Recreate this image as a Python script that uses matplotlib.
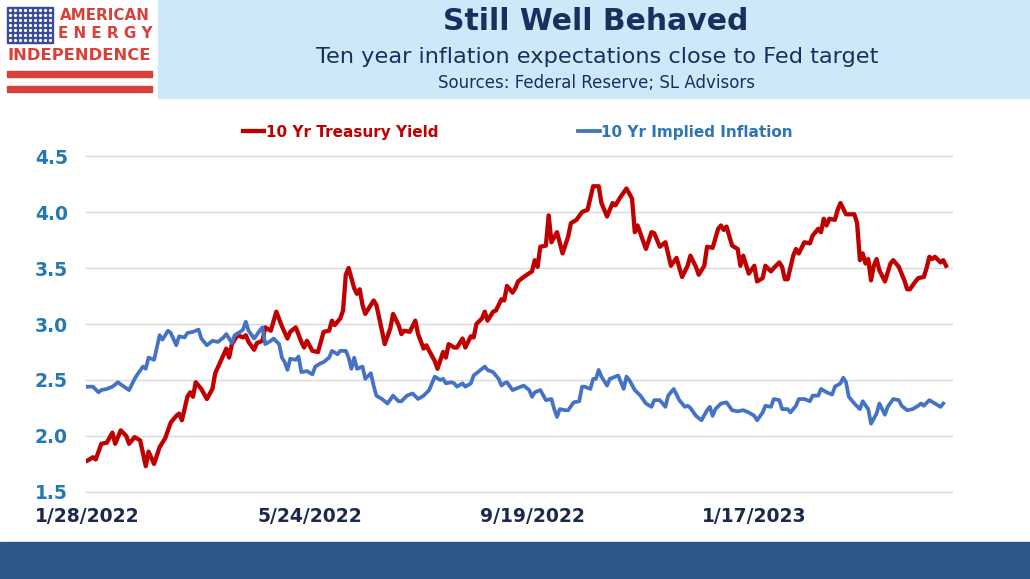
import matplotlib.pyplot as plt
from matplotlib.patches import Rectangle
import numpy as np

# trading-day index since 1/28/2022 and values
tsy_day = [0, 2, 3, 5, 7, 9, 10, 12, 14, 15, 17, 19, 21, 22, 24, 26, 28, 30, 32, 33,
           34, 36, 37, 38, 39, 41, 43, 45, 46, 48, 50, 51, 52, 54, 56, 57, 58, 60, 61, 63,
           64, 66, 68, 70, 72, 73, 75, 77, 78, 79, 81, 83, 85, 87, 88, 89, 91, 92, 93, 94,
           96, 97, 98, 99, 100, 103, 104, 106, 107, 109, 110, 112, 113, 114, 116, 118, 119, 121, 122, 123,
           125, 126, 128, 129, 130, 132, 133, 135, 136, 138, 139, 140, 142, 143, 144, 146, 147, 149, 150, 151,
           153, 154, 155, 157, 160, 161, 162, 163, 165, 166, 167, 169, 171, 173, 174, 176, 178, 180, 182, 184,
           185, 187, 189, 190, 192, 194, 196, 197, 198, 201, 203, 204, 206, 208, 210, 212, 214, 216, 217, 219,
           220, 222, 223, 225, 227, 228, 229, 230, 232, 234, 235, 236, 238, 240, 241, 243, 244, 246, 247, 249,
           250, 251, 252, 254, 255, 256, 258, 260, 261, 263, 264, 265, 266, 267, 269, 270, 271, 273, 276, 277,
           278, 279, 280, 281, 282, 283, 284, 285, 287, 289, 290, 292, 294, 295, 296, 298, 299, 301, 302, 303,
           304, 305, 307, 308, 309]
tsy_yield = [1.78, 1.81, 1.79, 1.93, 1.94, 2.03, 1.93, 2.05, 2.00, 1.93, 1.99, 1.96, 1.73, 1.86, 1.75, 1.90, 1.98, 2.12, 2.18, 2.20,
             2.14, 2.35, 2.39, 2.35, 2.48, 2.42, 2.33, 2.42, 2.56, 2.67, 2.78, 2.70, 2.82, 2.90, 2.88, 2.90, 2.84, 2.77, 2.83, 2.85,
             2.97, 2.94, 3.11, 2.98, 2.87, 2.93, 2.97, 2.84, 2.79, 2.85, 2.76, 2.75, 2.93, 2.94, 3.03, 2.99, 3.05, 3.12, 3.44, 3.50,
             3.32, 3.27, 3.31, 3.17, 3.09, 3.21, 3.17, 2.94, 2.82, 2.96, 3.09, 2.99, 2.91, 2.94, 2.93, 3.03, 2.91, 2.78, 2.81, 2.76,
             2.67, 2.60, 2.75, 2.70, 2.82, 2.79, 2.79, 2.87, 2.79, 2.89, 2.88, 3.00, 3.05, 3.11, 3.03, 3.11, 3.12, 3.22, 3.21, 3.34,
             3.28, 3.32, 3.38, 3.42, 3.47, 3.57, 3.51, 3.69, 3.70, 3.97, 3.73, 3.82, 3.63, 3.78, 3.90, 3.93, 4.00, 4.02, 4.23, 4.23,
             4.08, 3.96, 4.08, 4.06, 4.14, 4.21, 4.12, 3.82, 3.88, 3.67, 3.82, 3.81, 3.69, 3.73, 3.52, 3.59, 3.42, 3.52, 3.61, 3.51,
             3.44, 3.52, 3.69, 3.68, 3.85, 3.88, 3.84, 3.87, 3.70, 3.67, 3.52, 3.61, 3.45, 3.52, 3.38, 3.41, 3.52, 3.47, 3.50, 3.55,
             3.51, 3.40, 3.40, 3.61, 3.67, 3.63, 3.73, 3.72, 3.79, 3.85, 3.82, 3.94, 3.88, 3.94, 3.93, 4.02, 4.08, 3.98, 3.98, 3.90,
             3.57, 3.63, 3.54, 3.58, 3.39, 3.52, 3.58, 3.48, 3.38, 3.54, 3.57, 3.51, 3.39, 3.31, 3.31, 3.38, 3.41, 3.42, 3.50, 3.60,
             3.58, 3.60, 3.55, 3.57, 3.52]

inf_day = [0, 2, 4, 5, 7, 9, 11, 12, 15, 17, 18, 20, 21, 22, 24, 25, 26, 27, 29, 30,
           32, 33, 35, 36, 38, 40, 41, 43, 45, 47, 49, 50, 52, 53, 55, 56, 57, 58, 60, 62,
           63, 64, 66, 67, 69, 70, 71, 72, 73, 75, 76, 77, 79, 81, 82, 84, 85, 87, 88, 90,
           91, 93, 94, 95, 96, 97, 99, 100, 102, 103, 104, 106, 108, 110, 112, 113, 115, 117, 119, 121,
           123, 125, 127, 128, 129, 131, 132, 133, 135, 136, 138, 139, 141, 143, 144, 146, 148, 149, 150, 151,
           153, 155, 157, 159, 160, 161, 163, 165, 167, 168, 169, 170, 172, 173, 175, 177, 178, 179, 181, 182,
           183, 184, 185, 187, 188, 190, 191, 193, 194, 195, 197, 199, 201, 203, 204, 206, 208, 209, 211, 213,
           215, 216, 217, 219, 221, 223, 224, 225, 226, 228, 230, 232, 234, 236, 238, 240, 241, 243, 244, 246,
           247, 249, 250, 252, 253, 255, 256, 258, 260, 261, 263, 264, 266, 268, 269, 271, 272, 273, 274, 276,
           278, 279, 281, 282, 284, 285, 287, 288, 290, 292, 293, 295, 297, 299, 300, 301, 303, 305, 307, 308]
inf_rate = [2.44, 2.44, 2.39, 2.41, 2.42, 2.44, 2.48, 2.46, 2.41, 2.51, 2.55, 2.62, 2.60, 2.70, 2.68, 2.79, 2.90, 2.86, 2.94, 2.92,
            2.81, 2.89, 2.88, 2.92, 2.93, 2.95, 2.87, 2.81, 2.85, 2.84, 2.88, 2.91, 2.83, 2.90, 2.93, 2.95, 3.02, 2.94, 2.87, 2.94,
            2.97, 2.82, 2.85, 2.87, 2.82, 2.70, 2.66, 2.59, 2.69, 2.68, 2.71, 2.57, 2.58, 2.55, 2.62, 2.65, 2.66, 2.70, 2.76, 2.73,
            2.76, 2.76, 2.70, 2.60, 2.70, 2.60, 2.62, 2.51, 2.56, 2.45, 2.36, 2.33, 2.29, 2.36, 2.31, 2.31, 2.36, 2.38, 2.33, 2.36,
            2.41, 2.53, 2.50, 2.51, 2.47, 2.48, 2.47, 2.44, 2.47, 2.44, 2.47, 2.54, 2.58, 2.62, 2.59, 2.57, 2.51, 2.45, 2.47, 2.48,
            2.41, 2.43, 2.45, 2.41, 2.35, 2.39, 2.41, 2.32, 2.33, 2.24, 2.17, 2.24, 2.23, 2.23, 2.30, 2.31, 2.44, 2.44, 2.42, 2.51,
            2.51, 2.59, 2.53, 2.45, 2.51, 2.53, 2.54, 2.42, 2.53, 2.50, 2.41, 2.36, 2.29, 2.26, 2.32, 2.32, 2.26, 2.36, 2.42, 2.32,
            2.26, 2.27, 2.25, 2.18, 2.14, 2.23, 2.26, 2.18, 2.24, 2.29, 2.30, 2.23, 2.22, 2.23, 2.21, 2.18, 2.14, 2.21, 2.27, 2.26,
            2.33, 2.32, 2.24, 2.24, 2.21, 2.27, 2.33, 2.33, 2.31, 2.36, 2.36, 2.42, 2.39, 2.37, 2.44, 2.47, 2.52, 2.48, 2.35, 2.29,
            2.24, 2.31, 2.24, 2.11, 2.20, 2.29, 2.19, 2.26, 2.33, 2.32, 2.27, 2.23, 2.24, 2.27, 2.29, 2.27, 2.32, 2.29, 2.26, 2.29]

tick_days = [0, 80, 160, 240]
tick_labels = ['1/28/2022', '5/24/2022', '9/19/2022', '1/17/2023']
y_ticks = [1.5, 2.0, 2.5, 3.0, 3.5, 4.0, 4.5]

red = '#c00000'
blue = '#4472c4'
navy = '#17305e'
logo_red = '#d8403a'

W, H = 1030, 579
fig = plt.figure(figsize=(W / 100, H / 100), dpi=100)
fig.patch.set_facecolor('white')

def fx(px):
    return px / W

def fy(py):
    return 1 - py / H

# header box
fig.patches.append(Rectangle((fx(158), fy(98)), 1 - fx(158), 98 / H,
                             transform=fig.transFigure, color='#cde8f9', zorder=0))
# bottom band
fig.patches.append(Rectangle((0, 0), 1, fy(542), transform=fig.transFigure,
                             color='#2b5886', zorder=0))

# logo
fig.patches.append(Rectangle((fx(7), fy(43)), fx(46), 36 / H, transform=fig.transFigure,
                             color='#3a4b9b', zorder=1))
sx, sy = np.meshgrid(np.linspace(10, 50, 9), np.linspace(10, 40, 7))
fig.add_artist(plt.Line2D(fx(sx.ravel()), fy(sy.ravel()), ls='none', marker='o', ms=1.3,
                          color='white', transform=fig.transFigure, zorder=2))
for top in (71, 86):
    fig.patches.append(Rectangle((fx(7), fy(top + 6)), fx(145), 6 / H,
                                 transform=fig.transFigure, color=logo_red, zorder=1))
fig.text(fx(105), fy(16), 'AMERICAN', ha='center', va='center', fontsize=10.9,
         fontweight='bold', color=logo_red)
fig.text(fx(105), fy(34), 'E N E R G Y', ha='center', va='center', fontsize=10.9,
         fontweight='bold', color=logo_red)
fig.text(fx(79), fy(55), 'INDEPENDENCE', ha='center', va='center', fontsize=11.8,
         fontweight='bold', color=logo_red)

# titles
fig.text(fx(596), fy(22), 'Still Well Behaved', ha='center', va='center', fontsize=21.5,
         fontweight='bold', color=navy)
fig.text(fx(597), fy(57), 'Ten year inflation expectations close to Fed target',
         ha='center', va='center', fontsize=16.2, color=navy)
fig.text(fx(597), fy(83), 'Sources: Federal Reserve; SL Advisors', ha='center',
         va='center', fontsize=12, color=navy)

# chart
ax = fig.add_axes([fx(86), fy(494.2), fx(953) - fx(86), (494.2 - 153.8) / H])
ax.set_facecolor('none')
l1, = ax.plot(tsy_day, tsy_yield, color=red, lw=3.1, solid_joinstyle='round',
              label='10 Yr Treasury Yield')
l2, = ax.plot(inf_day, inf_rate, color=blue, lw=2.7, solid_joinstyle='round',
              label='10 Yr Implied Inflation')
ax.set_xlim(-0.5, 311.5)
ax.set_ylim(1.48, 4.52)
ax.set_yticks(y_ticks)
ax.set_yticklabels(['%.1f' % v for v in y_ticks])
ax.set_xticks(tick_days)
ax.set_xticklabels(tick_labels)
ax.yaxis.grid(True, color='#d9d9d9', lw=1)
ax.set_axisbelow(True)
for s in ax.spines.values():
    s.set_visible(False)
ax.tick_params(length=0)
ax.tick_params(axis='y', pad=13, labelsize=13.5, labelcolor='#2678b2')
ax.tick_params(axis='x', pad=9, labelsize=13.5, labelcolor='#1b2a4a')
for t in ax.get_xticklabels() + ax.get_yticklabels():
    t.set_fontweight('bold')

leg = fig.legend(handles=[l1, l2], loc='center left', bbox_to_anchor=(fx(243), fy(132)),
                 ncol=2, frameon=False, handlelength=1.4, handletextpad=0.1,
                 columnspacing=9.15, borderpad=0, borderaxespad=0,
                 prop={'weight': 'bold', 'size': 11.0})
for txt, c in zip(leg.get_texts(), [red, '#2e75b6']):
    txt.set_color(c)

fig.savefig('out.png', dpi=100)
